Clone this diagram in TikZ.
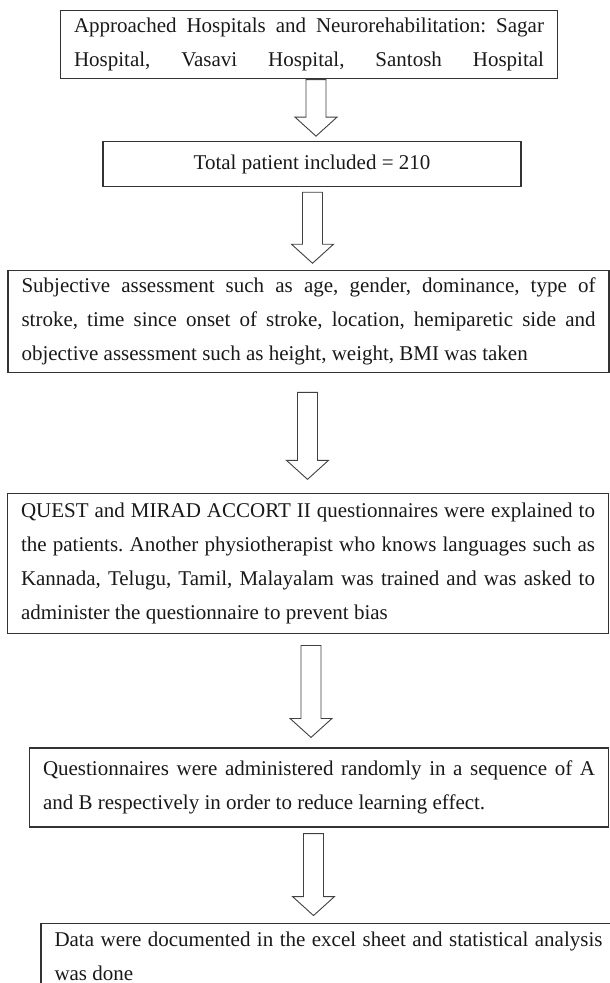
\documentclass[tikz,border=0pt]{standalone}
\usepackage{fontspec}
\setmainfont{Liberation Serif}
\usepackage{tikz}
\usetikzlibrary{positioning, calc}
\newcommand{\shafthalf}{10pt}
\newcommand{\headhalf}{21pt}
\newcommand{\headlen}{19pt}
\tikzstyle{stage} = [% one step of the study procedure
  rectangle,
  draw=black!80,
  line width=1.1pt,
  inner xsep=13.5pt,
  inner ysep=2pt,
  align=justify,
  font=\fontsize{21}{34}\selectfont,
  text=black!90
  ]
\tikzstyle{hollow} = [% outlined block arrow between two stages
  draw=black!75,
  line width=0.9pt,
  fill=white
  ]
% block arrow: from, to, centre x, gap below from, gap above to
\newcommand{\blockarrow}[5]{%
  \draw[hollow] let \p1=(#1.south), \p2=(#2.north) in
    (#3pt-\shafthalf, \y1-#4pt) -- (#3pt+\shafthalf, \y1-#4pt)
    -- (#3pt+\shafthalf, \y2+#5pt+\headlen) -- (#3pt+\headhalf, \y2+#5pt+\headlen)
    -- (#3pt, \y2+#5pt)
    -- (#3pt-\headhalf, \y2+#5pt+\headlen) -- (#3pt-\shafthalf, \y2+#5pt+\headlen)
    -- cycle;
}
\frenchspacing
\hyphenpenalty=10000
\tolerance=9999

\begin{document}
\begin{tikzpicture}[x=1pt, y=-1pt]
\useasboundingbox (0,0) rectangle (610,983);
\clip (0,0) rectangle (610,983);

%%% Nodes
\node[stage, text width=470pt, inner ysep=7.5pt, anchor=north] (hospitals) at (309,10)
  {\parfillskip=0pt Approached Hospitals and Neurorehabilitation: Sagar\linebreak
   Hospital, Vasavi Hospital, Santosh Hospital\par};
\node[stage, align=center, minimum width=418pt, minimum height=45pt] (total)
  [below=62pt of hospitals, xshift=3pt] {Total patient included = 210};
\node[stage, text width=574pt, minimum height=102pt] (assessment)
  [below=83pt of total, xshift=-3.5pt]
  {Subjective assessment such as age, gender, dominance, type of\linebreak
   stroke, time since onset of stroke, location, hemiparetic side and\linebreak
   objective assessment such as height, weight, BMI was taken};
\node[stage, text width=574pt, minimum height=140pt] (explained)
  [below=120pt of assessment, xshift=-0.5pt]
  {QUEST and MIRAD ACCORT II questionnaires were explained to\linebreak
   the patients. Another physiotherapist who knows languages such as\linebreak
   Kannada, Telugu, Tamil, Malayalam was trained and was asked to\linebreak
   administer the questionnaire to prevent bias};
\node[stage, text width=552pt, minimum height=79pt] (random)
  [below=113pt of explained, xshift=11pt]
  {Questionnaires were administered randomly in a sequence of A\linebreak
   and B respectively in order to reduce learning effect.};
\node[stage, text width=548pt, inner ysep=9pt] (documented)
  [below=95pt of random, xshift=9.5pt]
  {Data were documented in the excel sheet and statistical analysis\linebreak
   was done};

%%% Arrows
\blockarrow{hospitals}{total}{316}{0.5}{5}
\blockarrow{total}{assessment}{312.5}{5}{7}
\blockarrow{assessment}{explained}{307.5}{19}{14}
\blockarrow{explained}{random}{311}{11}{10}
\blockarrow{random}{documented}{313.5}{6}{7}

\end{tikzpicture}
\end{document}
